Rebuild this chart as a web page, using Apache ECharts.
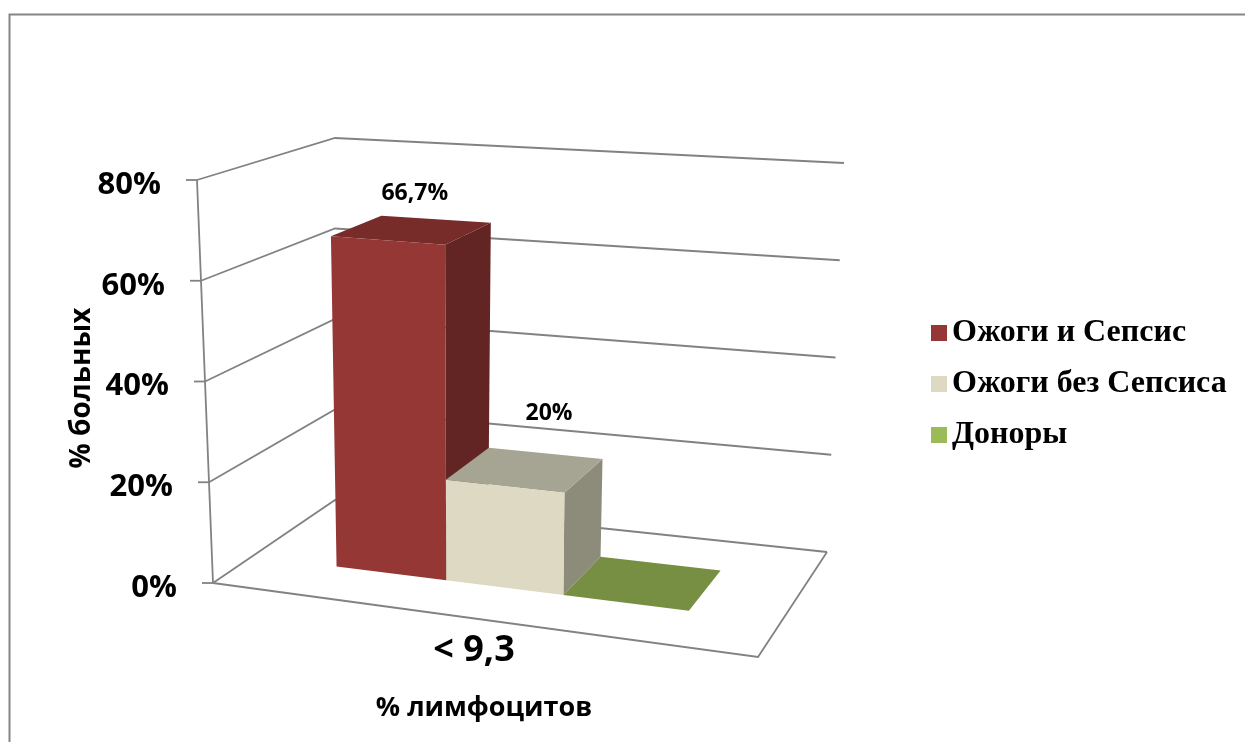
<!DOCTYPE html>
<html>
<head>
<meta charset="utf-8">
<title>% больных</title>
<script src="https://cdn.jsdelivr.net/npm/echarts@6/dist/echarts.min.js"></script>
<style>
html, body { margin: 0; padding: 0; background: #fff; }
#chart { width: 1245px; height: 742px; }
</style>
</head>
<body>
<div id="chart"></div>
<script>
const categories = ['< 9,3'];
const seriesNames = ['Ожоги и Сепсис', 'Ожоги без Сепсиса', 'Доноры'];
const burnsSepsis = [0.667];
const burnsNoSepsis = [0.2];
const donors = [0];
const yTicks = [0, 0.2, 0.4, 0.6, 0.8];
const yTickLabels = ['0%', '20%', '40%', '60%', '80%'];
const yMax = 0.8;

// floor of the 3d box in px: front-left, front-right, back-right, back-left
const FLOOR = [[213, 583], [758, 657], [827, 552], [335, 500]];
// shift of each floor corner for the full axis height
const RISE = [[-16, -403], [12, -433], [17, -389], [0, -362]];
const GRID = '#828282';
const FONT = '"Open Sans", "Noto Sans", sans-serif';

// perspective map of the unit square onto the floor quad
function squareToQuad(q) {
  const [x0, y0] = q[0], [x1, y1] = q[1], [x2, y2] = q[2], [x3, y3] = q[3];
  const dx1 = x1 - x2, dx2 = x3 - x2, dx3 = x0 - x1 + x2 - x3;
  const dy1 = y1 - y2, dy2 = y3 - y2, dy3 = y0 - y1 + y2 - y3;
  const den = dx1 * dy2 - dx2 * dy1;
  const g = (dx3 * dy2 - dx2 * dy3) / den;
  const h = (dx1 * dy3 - dx3 * dy1) / den;
  const a = x1 - x0 + g * x1, b = x3 - x0 + h * x3, c = x0;
  const d = y1 - y0 + g * y1, e = y3 - y0 + h * y3, f = y0;
  return (u, v) => {
    const w = g * u + h * v + 1;
    return [(a * u + b * v + c) / w, (d * u + e * v + f) / w];
  };
}
const floorAt = squareToQuad(FLOOR);

function riseAt(u, v) {
  const k = [(1 - u) * (1 - v), u * (1 - v), u * v, (1 - u) * v];
  return [0, 1].map(i => k[0] * RISE[0][i] + k[1] * RISE[1][i] + k[2] * RISE[2][i] + k[3] * RISE[3][i]);
}

// u: left->right, v: front->back, t: share of the axis height
function project(u, v, t) {
  const p = floorAt(u, v), r = riseAt(u, v);
  return [p[0] + t * r[0], p[1] + t * r[1]];
}

// value -> share of axis height, read from the (hidden) value axis
function frac(api, val) {
  const y0 = api.coord([0, 0])[1];
  const y1 = api.coord([0, yMax])[1];
  return (y0 - api.coord([0, val])[1]) / (y0 - y1);
}

function fmtPct(v) {
  return String(Math.round(v * 1000) / 10).replace('.', ',') + '%';
}

function renderFrame(params, api) {
  const i = params.dataIndex;
  const t = frac(api, api.value(1));
  const p0 = project(0, 0, t);
  const kids = [
    { type: 'polyline', shape: { points: [p0, project(0, 1, t), project(1, 1, t)] },
      style: { stroke: GRID, lineWidth: 1.8, fill: null } },
    { type: 'line', shape: { x1: p0[0] - 11, y1: p0[1], x2: p0[0], y2: p0[1] },
      style: { stroke: GRID, lineWidth: 1.8 } },
    { type: 'text', x: p0[0] - 36, y: p0[1] + 5,
      style: { text: yTickLabels[i], align: 'right', verticalAlign: 'middle',
        font: 'bold 31px ' + FONT, fill: '#000' } }
  ];
  if (i === 0) {
    kids.push({ type: 'polyline',
      shape: { points: [project(0, 0, 0), project(1, 0, 0), project(1, 1, 0)] },
      style: { stroke: GRID, lineWidth: 1.8, fill: null } });
    kids.push({ type: 'line',
      shape: { x1: p0[0], y1: p0[1], x2: project(0, 0, 1)[0], y2: project(0, 0, 1)[1] },
      style: { stroke: GRID, lineWidth: 1.8 } });
    categories.forEach((c, ci) => {
      const q = project((ci + 0.5) / categories.length, 0, 0);
      kids.push({ type: 'text', x: q[0] + 10, y: q[1] + 34,
        style: { text: c, align: 'center', verticalAlign: 'middle',
          font: 'bold 36px ' + FONT, fill: '#000' } });
    });
  }
  return { type: 'group', children: kids };
}

const barW = 2 / 9, barStart = 0.18, depth = [0.3, 0.7];

function barSeries(k, name, values, colors, labelShift) {
  return {
    type: 'custom',
    name: name,
    itemStyle: { color: colors[0] },
    data: values.map((v, i) => [i, v]),
    renderItem: function (params, api) {
      const val = api.value(1);
      const t = frac(api, val);
      const u0 = barStart + k * barW, u1 = u0 + barW;
      const [v0, v1] = depth;
      const poly = (pts, fill) => ({ type: 'polygon', shape: { points: pts }, style: { fill: fill } });
      const kids = [
        poly([project(u1, v0, 0), project(u1, v1, 0), project(u1, v1, t), project(u1, v0, t)], colors[2]),
        poly([project(u0, v0, t), project(u1, v0, t), project(u1, v1, t), project(u0, v1, t)], colors[1]),
        poly([project(u0, v0, 0), project(u1, v0, 0), project(u1, v0, t), project(u0, v0, t)], colors[0])
      ];
      if (val > 0) {
        const c = project((u0 + u1) / 2, 0.5, t);
        kids.push({ type: 'text', x: c[0] + labelShift[0], y: c[1] + labelShift[1],
          style: { text: fmtPct(val), align: 'center', verticalAlign: 'middle',
            font: 'bold 23px ' + FONT, fill: '#000' } });
      }
      return { type: 'group', children: kids };
    }
  };
}

const chart = echarts.init(document.getElementById('chart'));
chart.setOption({
  animation: false,
  grid: { left: 197, right: 400, top: 180, bottom: 159 },
  xAxis: { type: 'category', data: categories, show: false },
  yAxis: { type: 'value', min: 0, max: yMax, interval: 0.2, show: false },
  legend: {
    data: seriesNames,
    orient: 'vertical',
    left: 931,
    top: 317,
    padding: 0,
    icon: 'rect',
    itemWidth: 16,
    itemHeight: 16,
    itemGap: 19,
    textStyle: { fontFamily: '"Liberation Serif", serif', fontWeight: 'bold', fontSize: 32, color: '#000' }
  },
  graphic: [
    { type: 'rect', left: 7, top: 12, shape: { width: 1300, height: 800 },
      style: { stroke: '#868686', lineWidth: 2, fill: null }, silent: true },
    { type: 'text', x: 82, y: 388, rotation: Math.PI / 2,
      style: { text: '% больных', align: 'center', verticalAlign: 'middle',
        font: 'bold 28px ' + FONT, fill: '#000' } },
    { type: 'text', x: 484, y: 708,
      style: { text: '% лимфоцитов', align: 'center', verticalAlign: 'middle',
        font: 'bold 27px ' + FONT, fill: '#000' } }
  ],
  series: [
    { type: 'custom', name: 'frame', data: yTicks.map(v => [0, v]), renderItem: renderFrame, silent: true },
    barSeries(0, seriesNames[0], burnsSepsis, ['#953735', '#772c2a', '#632523'], [3, -36]),
    barSeries(1, seriesNames[1], burnsNoSepsis, ['#ddd9c3', '#a6a492', '#8d8b7a'], [24, -56]),
    barSeries(2, seriesNames[2], donors, ['#9bbb59', '#778f42', '#66793a'], [0, -36])
  ]
});
</script>
</body>
</html>
